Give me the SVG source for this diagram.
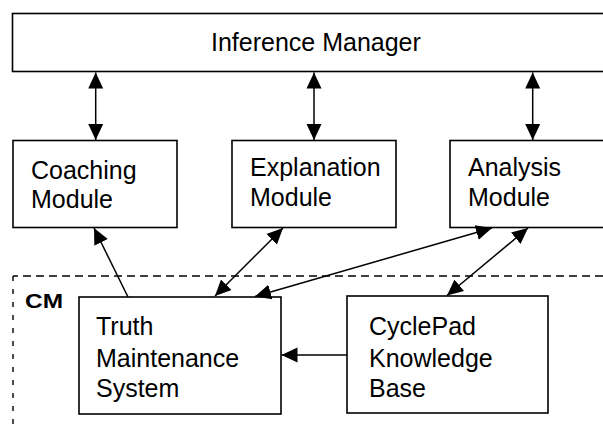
<svg xmlns="http://www.w3.org/2000/svg" width="603" height="425" viewBox="0 0 603 425">
<style>
.box{fill:#fff;stroke:#000;stroke-width:1.6}
.t{font-family:"Liberation Sans",Arial,sans-serif;font-size:25px;fill:#000}
.cm{font-family:"Liberation Sans",Arial,sans-serif;font-size:21px;font-weight:bold;fill:#000}
.c{stroke:#000;stroke-width:1.5;fill:none}
.dash{stroke:#000;stroke-width:1.4;fill:none}
</style>
<defs>
<marker id="ah" markerUnits="userSpaceOnUse" markerWidth="17" markerHeight="17" viewBox="0 0 17 17" refX="16" refY="8.5" orient="auto-start-reverse">
<path d="M0,1 L16,8.5 L0,16 z" fill="#000"/>
</marker>
</defs>
<rect width="603" height="425" fill="#fff"/>
<g id="cm-boundary">
<path class="dash" d="M603,276 L13,276" stroke-dasharray="8 5"/>
<path class="dash" d="M13,276 L13,425" stroke-dasharray="5 8"/>
<text class="cm" x="25" y="308" textLength="38" lengthAdjust="spacingAndGlyphs">CM</text>
</g>
<g id="inference-manager">
<rect class="box" x="12.5" y="13.5" width="600" height="58"/>
<text class="t" x="211" y="51">Inference Manager</text>
</g>
<g id="coaching-module">
<rect class="box" x="13" y="140.5" width="164" height="87"/>
<text class="t" x="31" y="179">Coaching</text>
<text class="t" x="31" y="208">Module</text>
</g>
<g id="explanation-module">
<rect class="box" x="232" y="140.5" width="164" height="87"/>
<text class="t" x="250" y="176">Explanation</text>
<text class="t" x="250" y="206">Module</text>
</g>
<g id="analysis-module">
<rect class="box" x="450" y="140.5" width="160" height="87"/>
<text class="t" x="468" y="176">Analysis</text>
<text class="t" x="468" y="206">Module</text>
</g>
<g id="tms">
<rect class="box" x="79" y="297" width="202" height="117"/>
<text class="t" x="96" y="335">Truth</text>
<text class="t" x="96" y="367">Maintenance</text>
<text class="t" x="96" y="397">System</text>
</g>
<g id="cyclepad-kb">
<rect class="box" x="347" y="296" width="201" height="117"/>
<text class="t" x="369" y="335">CyclePad</text>
<text class="t" x="369" y="367">Knowledge</text>
<text class="t" x="369" y="397">Base</text>
</g>
<g id="connectors">
<line class="c" x1="95.7" y1="72.5" x2="95.7" y2="140" marker-start="url(#ah)" marker-end="url(#ah)"/>
<line class="c" x1="314" y1="72.5" x2="314" y2="140" marker-start="url(#ah)" marker-end="url(#ah)"/>
<line class="c" x1="532.7" y1="72.5" x2="532.7" y2="140" marker-start="url(#ah)" marker-end="url(#ah)"/>
<line class="c" x1="128" y1="297" x2="94" y2="228" marker-end="url(#ah)"/>
<line class="c" x1="215" y1="296" x2="283" y2="228" marker-start="url(#ah)" marker-end="url(#ah)"/>
<line class="c" x1="255" y1="296.5" x2="492" y2="228" marker-start="url(#ah)" marker-end="url(#ah)"/>
<line class="c" x1="447" y1="295.5" x2="528" y2="228" marker-start="url(#ah)" marker-end="url(#ah)"/>
<line class="c" x1="347" y1="355" x2="281.5" y2="355" marker-end="url(#ah)"/>
</g>
</svg>
